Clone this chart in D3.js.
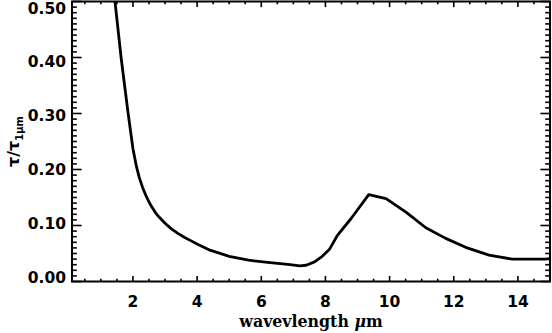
<!DOCTYPE html>
<html>
<head>
<meta charset="utf-8">
<script src="https://cdn.jsdelivr.net/npm/d3@7"></script>
<style>
  body { margin: 0; background: #fff; }
  svg { display: block; }
</style>
</head>
<body>
<script>
// curve: wavelength (um) vs tau / tau(1um)
var wavelength = [1.3, 1.44, 1.63, 1.85, 2.0, 2.11, 2.2, 2.3, 2.4, 2.5, 2.6, 2.7, 2.8, 3.0, 3.2, 3.4, 3.6, 3.8, 4.0, 4.4, 5.0, 5.6, 6.2, 6.9, 7.2, 7.4, 7.66, 7.9, 8.12, 8.38, 8.8, 9.35, 9.89, 10.51, 11.13, 11.75, 12.37, 13.1, 13.82, 14.86, 15.0];
var tauRatio   = [0.575, 0.50, 0.40, 0.30, 0.237, 0.205, 0.185, 0.168, 0.154, 0.142, 0.132, 0.123, 0.116, 0.104, 0.094, 0.086, 0.079, 0.073, 0.067, 0.056, 0.045, 0.038, 0.034, 0.030, 0.028, 0.029, 0.035, 0.045, 0.057, 0.083, 0.1125, 0.155, 0.148, 0.124, 0.096, 0.077, 0.061, 0.047, 0.040, 0.040, 0.041];

var xMajor = [2, 4, 6, 8, 10, 12, 14];
var yMajor = [0, 0.1, 0.2, 0.3, 0.4, 0.5];

var width = 552, height = 333;
// plot frame (note: "top" is taken by window.top, so use pl/pr/pt/pb)
var pl = 72, pr = 550, pt = 1.5, pb = 281.5;

var svg = d3.select("body").append("svg")
    .attr("width", width)
    .attr("height", height);

var x = d3.scaleLinear().domain([0.1, 15]).range([pl, pr]);
var y = d3.scaleLinear().domain([0, 0.5]).range([pb, pt]);
// tick labels sit a little inside the frame at both ends
var yLab = d3.scaleLinear().domain([0, 0.5]).range([pb + 1.5, pt + 12]);

var xMinor = d3.range(0.5, 15.01, 0.5);
var yMinor = d3.range(0, 0.5001, 0.01);

var tickStyle = function(sel) {
  sel.attr("stroke", "#000").attr("stroke-width", 1.6);
};

// ticks, all pointing inward (bottom/top and left/right)
var g = svg.append("g");
xMinor.forEach(function(v) {
  var len = xMajor.indexOf(v) >= 0 ? 5.6 : 2.8;
  g.append("line").attr("x1", x(v)).attr("x2", x(v)).attr("y1", pb).attr("y2", pb - len).call(tickStyle);
  g.append("line").attr("x1", x(v)).attr("x2", x(v)).attr("y1", pt).attr("y2", pt + len).call(tickStyle);
});
yMinor.forEach(function(v, i) {
  var len = i % 10 == 0 ? 9.6 : 4.8;
  g.append("line").attr("y1", y(v)).attr("y2", y(v)).attr("x1", pl).attr("x2", pl + len).call(tickStyle);
  g.append("line").attr("y1", y(v)).attr("y2", y(v)).attr("x1", pr).attr("x2", pr - len).call(tickStyle);
});

// frame
svg.append("rect")
    .attr("x", pl).attr("y", pt)
    .attr("width", pr - pl).attr("height", pb - pt)
    .attr("fill", "none")
    .attr("stroke", "#000")
    .attr("stroke-width", 2);

// curve
svg.append("clipPath").attr("id", "clip")
  .append("rect").attr("x", pl).attr("y", pt).attr("width", pr - pl).attr("height", pb - pt);

var line = d3.line()
    .x(function(d, i) { return x(wavelength[i]); })
    .y(function(d) { return y(d); });

svg.append("path")
    .datum(tauRatio)
    .attr("clip-path", "url(#clip)")
    .attr("fill", "none")
    .attr("stroke", "#000")
    .attr("stroke-width", 2.8)
    .attr("stroke-linejoin", "round")
    .attr("d", line);

// tick labels
var labFont = "'DejaVu Sans', sans-serif";
svg.selectAll(".xl").data(xMajor).enter().append("text")
    .attr("x", function(d) { return x(d); })
    .attr("y", 307)
    .attr("text-anchor", "middle")
    .attr("font-family", labFont).attr("font-weight", "bold").attr("font-size", 15.5)
    .text(function(d) { return d; });

svg.selectAll(".yl").data(yMajor).enter().append("text")
    .attr("x", 66)
    .attr("y", function(d) { return yLab(d); })
    .attr("text-anchor", "end")
    .attr("font-family", labFont).attr("font-weight", "bold").attr("font-size", 15.5)
    .text(function(d) { return d3.format(".2f")(d); });

// axis titles
var xt = svg.append("text")
    .attr("x", (pl + pr) / 2)
    .attr("y", 327)
    .attr("text-anchor", "middle")
    .attr("font-family", "'DejaVu Serif', serif").attr("font-weight", "bold").attr("font-size", 15.8);
xt.append("tspan").text("wavevlength ");
xt.append("tspan").attr("font-style", "italic").text("\u03bc");
xt.append("tspan").text("m");

var yt = svg.append("text")
    .attr("transform", "translate(19," + ((pt + pb) / 2) + ") rotate(-90)")
    .attr("text-anchor", "middle")
    .attr("font-family", labFont).attr("font-weight", "bold").attr("font-size", 16);
yt.append("tspan").text("\u03c4/\u03c4");
yt.append("tspan").attr("font-size", 10).attr("dy", 4).text("1\u03bcm");
</script>
</body>
</html>
